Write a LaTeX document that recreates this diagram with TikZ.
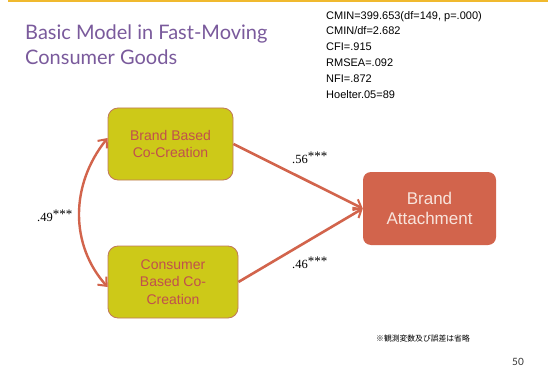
\documentclass[tikz,border=0pt]{standalone}
\usepackage{fontspec}
\setmainfont{Liberation Sans}
\newfontfamily\titlefont{Lato}
\newfontfamily\serifnum{Liberation Serif}
\newfontfamily\cjk{Noto Sans CJK JP}
\usetikzlibrary{arrows.meta}
\definecolor{gold}{HTML}{F0B92E}
\definecolor{titlepurple}{HTML}{7A5A9C}
\definecolor{olive}{HTML}{CDC918}
\definecolor{oliveborder}{HTML}{C0785A}
\definecolor{boxtext}{HTML}{C0504D}
\definecolor{arrowred}{HTML}{D2644C}
\definecolor{attach}{HTML}{D2644C}
\definecolor{attachtext}{HTML}{F8E4DC}
\newcommand{\stars}{\raisebox{3pt}{\fontsize{13}{13}\selectfont***}}
\tikzset{
  ybox/.style={draw=oliveborder, line width=0.8pt, fill=olive, rounded corners=10pt,
    text=boxtext, align=center, font=\fontsize{14}{17.5}\selectfont, inner sep=0pt},
  rbox/.style={fill=attach, rounded corners=8pt, text=attachtext, align=center,
    font=\fontsize{17}{20.5}\selectfont, inner sep=0pt},
  conn/.style={draw=arrowred, line width=2.6pt, -{Straight Barb[length=7pt,width=12pt,line width=2pt]}},
  coef/.style={font=\serifnum\fontsize{12.5}{14}\selectfont, inner sep=0pt, anchor=west},
  stat/.style={font=\fontsize{11}{15.8}\selectfont, align=left, anchor=north west, inner sep=0pt}
}
\begin{document}
\begin{tikzpicture}[x=1pt,y=-1pt]
\useasboundingbox (0,0) rectangle (548,374);
\fill[white] (0,0) rectangle (548,374);
\fill[gold] (8,0) rectangle (548,2.5);
\node[anchor=north west, inner sep=0pt, align=left, text=titlepurple,
  font=\titlefont\fontsize{20}{25}\selectfont] (title) at (25,25)
  {Basic Model in Fast-Moving\\Consumer Goods};
\node[stat] (stats) at (326,11) {CMIN=399.653(df=149, p=.000)\\CMIN/df=2.682\\CFI=.915\\RMSEA=.092\\NFI=.872\\Hoelter.05=89};
\node[ybox, minimum width=125pt, minimum height=72pt] (bb) at (170.5,144) {Brand Based\\Co-Creation};
\node[ybox, minimum width=130pt, minimum height=72pt] (cb) at (173,282) {Consumer\\Based Co-\\Creation};
\node[rbox, minimum width=133pt, minimum height=73pt] (ba) at (429.5,208.5) {Brand\\Attachment};
\draw[conn] (bb.east) -- (ba.west);
\draw[conn] (cb.east) -- (ba.west);
\draw[draw=arrowred, line width=2.4pt, {Straight Barb[length=7pt,width=12pt,line width=2pt]}-{Straight Barb[length=7pt,width=12pt,line width=2pt]}]
  ([yshift=6pt]bb.west) .. controls (70,185) and (70,245) .. ([yshift=-5pt]cb.west);
\node[coef] (c56) at (292,158) {.56\stars};
\node[coef] (c46) at (292,263) {.46\stars};
\node[coef] (c49) at (37,216) {.49\stars};
\node[anchor=west, inner sep=0pt, font=\cjk\fontsize{7.8}{9}\selectfont] (note) at (376,339) {※観測変数及び誤差は省略};
\node[anchor=west, inner sep=0pt, text=black!80, font=\titlefont\fontsize{10}{12}\selectfont] (pg) at (512,362) {50};
\end{tikzpicture}
\end{document}
